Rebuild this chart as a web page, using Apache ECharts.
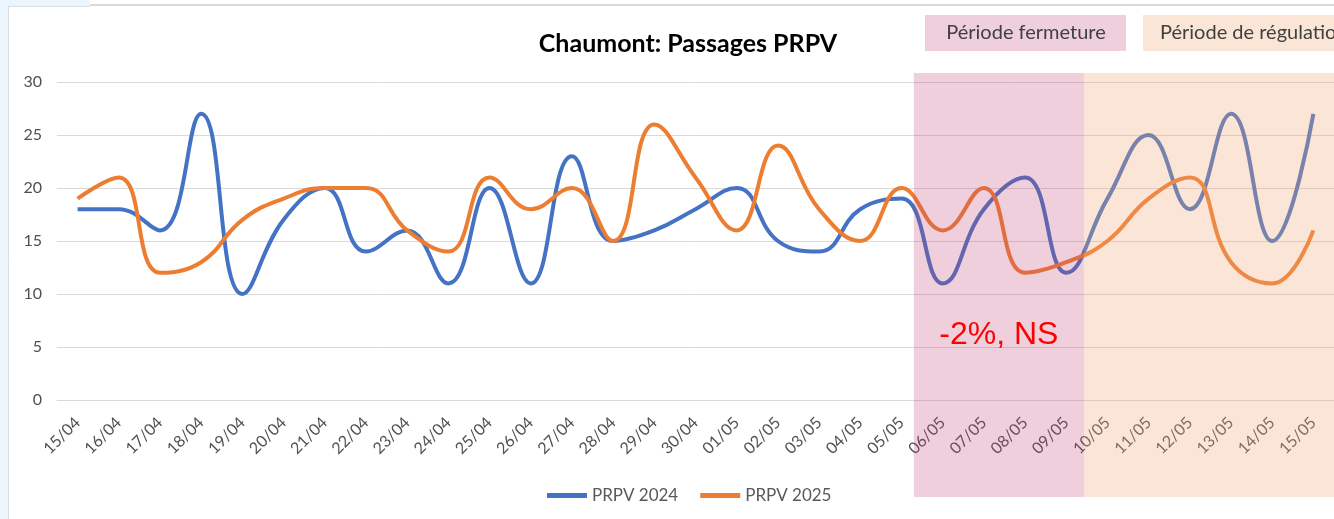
<!DOCTYPE html>
<html>
<head>
<meta charset="utf-8">
<script src="https://cdn.jsdelivr.net/npm/echarts@6/dist/echarts.min.js"></script>
<style>
html,body{margin:0;padding:0;background:#fff;}
#chart{width:1334px;height:519px;}
</style>
</head>
<body>
<div id="chart"></div>
<script>
// ---- data ----
var categories = ['15/04','16/04','17/04','18/04','19/04','20/04','21/04','22/04','23/04','24/04',
  '25/04','26/04','27/04','28/04','29/04','30/04','01/05','02/05','03/05','04/05',
  '05/05','06/05','07/05','08/05','09/05','10/05','11/05','12/05','13/05','14/05','15/05'];
var prpv2024 = [18,18,16,27,10,17,20,14,16,11,20,11,23,15,16,18,20,15,14,18,19,11,18,21,12,19,25,18,27,15,27];
var prpv2025 = [19,21,12,13,17,19,20,20,16,14,21,18,20,15,26,21,16,24,18,15,20,16,20,12,13,15,19,21,13,11,16];
var yTicks = {min:0, max:30, interval:5};
var seriesNames = ['PRPV 2024','PRPV 2025'];
var titleText = 'Chaumont: Passages PRPV';
var periodClosed = {label:'Période fermeture', from:20.3, to:24.43};
var periodRegul = {label:'Période de régulation', from:24.43, to:31};
var annotation = {text:'-2%, NS', value:6.1};

var FONT = 'Lato, "Open Sans", sans-serif';
var chart = echarts.init(document.getElementById('chart'), null, {renderer:'canvas'});

var option = {
  backgroundColor:'#ffffff',
  animation:false,
  title:{text:titleText, left:683, top:26, textAlign:'center',
    textStyle:{fontFamily:FONT, fontSize:25, fontWeight:'bold', color:'#000'}},
  legend:{
    data:seriesNames, bottom:10, left:542, icon:'rect', itemWidth:40, itemHeight:5, itemGap:22,
    textStyle:{fontFamily:FONT, fontSize:17, color:'#595959'}
  },
  grid:{left:57, right:-3, top:82, bottom:119, containLabel:false},
  xAxis:{
    type:'category', data:categories, boundaryGap:true,
    axisLine:{show:true, lineStyle:{color:'#d9d9d9', width:1}},
    axisTick:{show:false},
    axisLabel:{rotate:45, interval:0, margin:20, fontFamily:FONT, fontSize:16, color:'#505050'}
  },
  yAxis:{
    type:'value', min:yTicks.min, max:yTicks.max, interval:yTicks.interval,
    axisLine:{show:false}, axisTick:{show:false},
    axisLabel:{margin:15, fontFamily:FONT, fontSize:16, color:'#505050'},
    splitLine:{lineStyle:{color:'#d9d9d9', width:1}}
  },
  series:[
    {name:seriesNames[0], type:'line', data:prpv2024, smooth:0.45, symbol:'none',
      lineStyle:{color:'#4472C4', width:4}, itemStyle:{color:'#4472C4'}},
    {name:seriesNames[1], type:'line', data:prpv2025, smooth:0.45, symbol:'none',
      lineStyle:{color:'#ED7D31', width:4}, itemStyle:{color:'#ED7D31'}}
  ]
};
chart.setOption(option);

function catX(f){
  var i = Math.floor(f), fr = f - i;
  var a = chart.convertToPixel({xAxisIndex:0}, i);
  var b = chart.convertToPixel({xAxisIndex:0}, i+1);
  return a + (b - a) * fr;
}
var x0 = catX(periodClosed.from), x1 = catX(periodClosed.to), x2 = catX(periodRegul.to);
var yTop = 73, yBot = 497;
var yAnn = chart.convertToPixel({yAxisIndex:0}, annotation.value);

chart.setOption({
  graphic:[
    // frame
    {type:'rect', shape:{x:0,y:0,width:8,height:519}, style:{fill:'#edf5fc'}, z:100},
    {type:'rect', shape:{x:0,y:0,width:90,height:6}, style:{fill:'#edf5fc'}, z:100},
    {type:'line', shape:{x1:8.5,y1:6,x2:8.5,y2:519}, style:{stroke:'#d5dde6', lineWidth:1}, z:101},
    {type:'line', shape:{x1:8,y1:6.5,x2:90,y2:6.5}, style:{stroke:'#d5dde6', lineWidth:1}, z:101},
    {type:'line', shape:{x1:90,y1:5,x2:1334,y2:5}, style:{stroke:'#dadada', lineWidth:2}, z:101},
    // shaded periods (overlay)
    {type:'rect', shape:{x:x0, y:yTop, width:x1-x0, height:yBot-yTop}, style:{fill:'rgba(191,63,115,0.25)'}, z:50},
    {type:'rect', shape:{x:x1, y:yTop, width:x2-x1, height:yBot-yTop}, style:{fill:'rgba(242,168,118,0.3)'}, z:50},
    // annotation
    {type:'text', x:(x0+x1)/2, y:yAnn, style:{text:annotation.text, fill:'#ff0000', font:'32px "Liberation Sans", Arial, sans-serif', align:'center', verticalAlign:'middle'}, z:60},
    // period legend boxes
    {type:'rect', shape:{x:925, y:15, width:201, height:36}, style:{fill:'#efcfdc'}, z:60},
    {type:'text', x:1026, y:33, style:{text:periodClosed.label, fill:'#404040', font:'20px '+FONT, align:'center', verticalAlign:'middle'}, z:61},
    {type:'rect', shape:{x:1143, y:15, width:200, height:36}, style:{fill:'#fbe5d6'}, z:60},
    {type:'text', x:1160, y:33, style:{text:periodRegul.label, fill:'#404040', font:'20px '+FONT, align:'left', verticalAlign:'middle'}, z:61}
  ]
});
</script>
</body>
</html>
